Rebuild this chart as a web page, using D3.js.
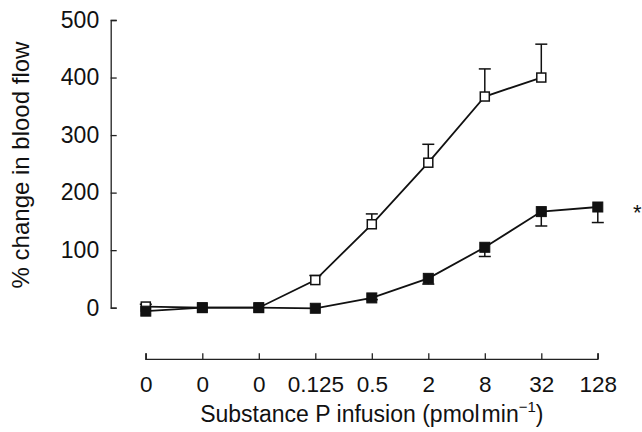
<!DOCTYPE html>
<html>
<head>
<meta charset="utf-8">
<script src="https://cdn.jsdelivr.net/npm/d3@7"></script>
<style>
  body { margin: 0; background: #fff; }
  svg { display: block; font-family: "Liberation Sans", Arial, sans-serif; }
</style>
</head>
<body>
<div class="Chart"></div>
<script>
// doses (x categories)
var doses = ["0", "0", "0", "0.125", "0.5", "2", "8", "32", "128"];
// open squares series, with upward SEM
var openValues = [2, 0, 0, 48, 145, 252, 367, 400];
var openErr    = [4, 0, 0, 8, 18, 32, 48, 58];
// filled squares series, with downward SEM
var filledValues = [-6, 0, 0, -1, 17, 51, 105, 167, 175];
var filledErr    = [0, 0, 0, 0, 3, 10, 16, 25, 27];
var yTicks = [0, 100, 200, 300, 400, 500];

var width = 642, height = 432;

var svg = d3.select(".Chart")
            .append("svg")
            .attr("width", width)
            .attr("height", height);

// scales
var x = d3.scalePoint()
          .domain(d3.range(doses.length))
          .range([145.8, 597.8]);
var y = d3.scaleLinear()
          .domain([0, 500])
          .range([307.7, 20]);

// y axis, ticks pointing inward
var yAxis = d3.axisLeft(y)
              .tickValues(yTicks)
              .tickSizeInner(-6)
              .tickSizeOuter(-6)
              .tickPadding(11.5);
var gy = svg.append("g")
            .attr("transform", "translate(110.7,0)")
            .call(yAxis);
gy.selectAll("text").attr("font-size", 23).attr("fill", "#111").attr("font-family", null);
gy.selectAll("path, line").attr("stroke", "#222").attr("stroke-width", 1.3);

// x axis, ticks pointing up
var xAxis = d3.axisBottom(x)
              .tickFormat(function(i){ return doses[i]; })
              .tickSizeInner(-6)
              .tickSizeOuter(-6)
              .tickPadding(17);
var gx = svg.append("g")
            .attr("transform", "translate(0,359.3)")
            .call(xAxis);
gx.selectAll("text").attr("font-size", 22.5).attr("fill", "#111").attr("font-family", null);
gx.selectAll("path, line").attr("stroke", "#222").attr("stroke-width", 1.3);
gx.select(".domain").attr("d", "M" + x(0) + ",-6V0H" + x(doses.length - 1) + "V-6");

// axis titles
svg.append("text")
   .attr("transform", "translate(29,165) rotate(-90)")
   .attr("text-anchor", "middle")
   .attr("font-size", 24)
   .attr("fill", "#111")
   .text("% change in blood flow");

var xt = svg.append("text")
            .attr("x", x(4))
            .attr("y", 422)
            .attr("text-anchor", "middle")
            .attr("font-size", 23)
            .attr("fill", "#111");
xt.append("tspan").text("Substance P infusion (pmol\u200amin");
xt.append("tspan").attr("font-size", 15).attr("dy", -10).text("\u22121");
xt.append("tspan").attr("dy", 10).text(")");

// series
var line = d3.line()
             .x(function(d, i){ return x(i); })
             .y(function(d){ return y(d); });

function drawSeries(values, errs, dir, filled) {
  var g = svg.append("g");
  g.append("path")
   .attr("d", line(values))
   .attr("fill", "none")
   .attr("stroke", "#111")
   .attr("stroke-width", 1.8);
  // error bars
  values.forEach(function(v, i){
    if (!errs[i]) return;
    var ye = y(v + dir * errs[i]);
    g.append("line")
     .attr("x1", x(i)).attr("x2", x(i))
     .attr("y1", y(v)).attr("y2", ye)
     .attr("stroke", "#111").attr("stroke-width", 1.5);
    g.append("line")
     .attr("x1", x(i) - 6).attr("x2", x(i) + 6)
     .attr("y1", ye).attr("y2", ye)
     .attr("stroke", "#111").attr("stroke-width", 1.5);
  });
  var s = filled ? 10 : 9;
  g.selectAll("rect")
   .data(values)
   .enter().append("rect")
   .attr("x", function(d, i){ return x(i) - s / 2; })
   .attr("y", function(d){ return y(d) - s / 2; })
   .attr("width", s)
   .attr("height", s)
   .attr("fill", filled ? "#111" : "#fff")
   .attr("stroke", "#111")
   .attr("stroke-width", filled ? 1 : 1.5);
}

drawSeries(openValues, openErr, 1, false);
drawSeries(filledValues, filledErr, -1, true);

// significance mark at the right edge
svg.append("text")
   .attr("x", 633)
   .attr("y", 219.5)
   .attr("font-size", 22)
   .attr("fill", "#111")
   .text("*");
</script>
</body>
</html>
